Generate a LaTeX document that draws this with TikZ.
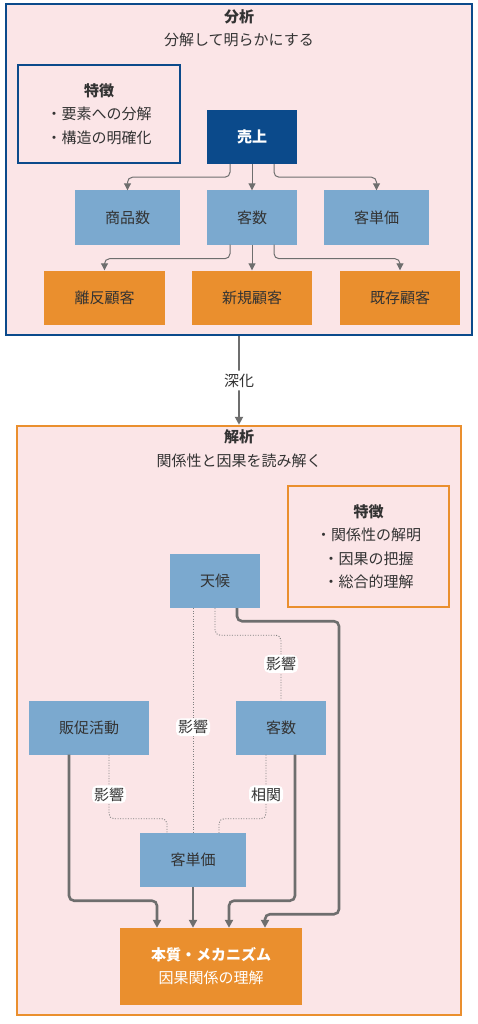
\documentclass[tikz,border=0pt]{standalone}
\usepackage{fontspec}
\setmainfont{Noto Sans CJK JP}
\usetikzlibrary{arrows.meta}
\definecolor{pinkbg}{HTML}{FBE5E7}
\definecolor{darkblue}{HTML}{0B4A8B}
\definecolor{lightblue}{HTML}{7BA9CF}
\definecolor{orangebox}{HTML}{EA8F2E}
\definecolor{textgray}{HTML}{333333}
\definecolor{linegray}{HTML}{6E6E6E}
\begin{document}
\begin{tikzpicture}[x=1pt,y=-1pt,
      every node/.style={font=\fontsize{15}{23.5}\selectfont,text=textgray},
      frame/.style={draw=#1,line width=2.5pt,fill=pinkbg,inner sep=0pt},
      feature box/.style={draw=#1,line width=1.6pt,fill=pinkbg,align=center,inner sep=0pt},
      box/.style={fill=#1,inner sep=0pt,minimum height=54pt},
      box/.default=lightblue,
      thin arrow/.style={draw=linegray,line width=1pt,rounded corners=5pt,
        -{Triangle[length=7pt,width=7pt]}},
      thick arrow/.style={draw=linegray,line width=2.6pt,rounded corners=5pt,
        -{Triangle[length=8pt,width=8pt]}},
      dotted link/.style={draw=gray,line width=0.9pt,dash pattern=on 1pt off 1.6pt,rounded corners=5pt},
      link label/.style={fill=white,inner sep=2pt}]
    \useasboundingbox (0,0) rectangle (477,1024);
    \fill[white] (0,0) rectangle (477,1024);
    \node[frame=darkblue,minimum width=466pt,minimum height=331pt] (bunseki) at (239,169.5) {};
    \node[font=\fontsize{15}{18}\bfseries] (bunseki title) at (239,17) {分析};
    \node (bunseki sub) at (239,40) {分解して明らかにする};
    \node[feature box=darkblue,minimum width=162pt,minimum height=98pt] (feature a) at (99,114)
      {\textbf{特徴}\\・要素への分解\\・構造の明確化};
    \node[box=darkblue,minimum width=90pt,text=white,font=\fontsize{15}{18}\bfseries] (uriage) at (252,137) {売上};
    \node[box,minimum width=105pt] (shohin) at (127.5,217.5) {商品数};
    \node[box,minimum width=90pt] (kyaku) at (252,217.5) {客数};
    \node[box,minimum width=105pt] (tanka) at (376.5,217.5) {客単価};
    \node[box=orangebox,minimum width=121pt] (rihan) at (104.5,297.5) {離反顧客};
    \node[box=orangebox,minimum width=120pt] (shinki) at (252,297.5) {新規顧客};
    \node[box=orangebox,minimum width=120pt] (kizon) at (400,297.5) {既存顧客};
    \draw[thin arrow] ([xshift=-22pt]uriage.south) -- ++(0,13) -| (shohin.north);
    \draw[thin arrow] (uriage.south) -- (kyaku.north);
    \draw[thin arrow] ([xshift=22pt]uriage.south) -- ++(0,13) -| (tanka.north);
    \draw[thin arrow] ([xshift=-22pt]kyaku.south) -- ++(0,14) -| (rihan.north);
    \draw[thin arrow] (kyaku.south) -- (shinki.north);
    \draw[thin arrow] ([xshift=22pt]kyaku.south) -- ++(0,14) -| (kizon.north);
    \node[frame=orangebox,minimum width=444pt,minimum height=589pt] (kaiseki) at (239,720.5) {};
    \draw[thick arrow] (bunseki.south) -- node[fill=white,inner sep=3pt] (shinka) {深化} (kaiseki.north);
    \node[font=\fontsize{15}{18}\bfseries] (kaiseki title) at (239,437) {解析};
    \node (kaiseki sub) at (239,461) {関係性と因果を読み解く};
    \node[feature box=orangebox,minimum width=161pt,minimum height=121pt] (feature b) at (368.5,546.5)
      {\textbf{特徴}\\・関係性の解明\\・因果の把握\\・総合的理解};
    \node[box,minimum width=90pt] (tenko) at (215,581) {天候};
    \node[box,minimum width=120pt] (hansoku) at (89,727.5) {販促活動};
    \node[box,minimum width=90pt] (kyakusu) at (281,727.5) {客数};
    \node[box,minimum width=106pt] (kyakutanka) at (193,860) {客単価};
    \node[box=orangebox,minimum width=182pt,minimum height=77pt,align=center,text=white,
      font=\fontsize{15}{23}\selectfont] (honshitsu) at (211,966.5)
      {\textbf{本質・メカニズム}\\因果関係の理解};
    \draw[dotted link] (tenko.south) -- ++(0,27) -| node[pos=0.72,link label] (eikyo a) {影響} (kyakusu.north);
    \draw[dotted link] ([xshift=-22pt]tenko.south) -- node[pos=0.53,link label] (eikyo b) {影響} (kyakutanka.north);
    \draw[dotted link] ([xshift=20pt]hansoku.south) -- node[pos=0.62,link label] (eikyo c) {影響} ++(0,64)
      -| ([xshift=-26pt]kyakutanka.north);
    \draw[dotted link] ([xshift=-15pt]kyakusu.south) -- node[pos=0.62,link label] (soukan) {相関} ++(0,64)
      -| ([xshift=26pt]kyakutanka.north);
    \draw[thick arrow] ([xshift=-20pt]hansoku.south) -- ++(0,146) -| ([xshift=-54pt]honshitsu.north);
    \draw[thick arrow] (kyakutanka.south) -- (kyakutanka.south |- honshitsu.north);
    \draw[thick arrow] ([xshift=14pt]kyakusu.south) -- ++(0,146) -| ([xshift=18pt]honshitsu.north);
    \draw[thick arrow] ([xshift=22pt]tenko.south) -- ++(0,13) -- ++(102,0) -- ++(0,293)
      -| ([xshift=54pt]honshitsu.north);
    \end{tikzpicture}
\end{document}
